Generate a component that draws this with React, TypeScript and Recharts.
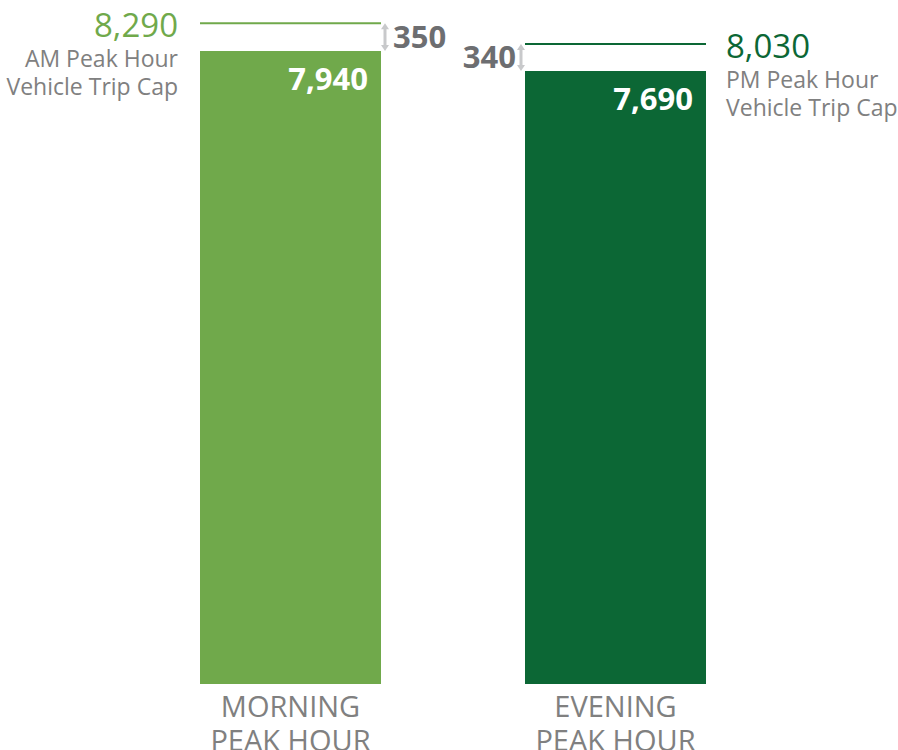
import { BarChart, Bar, XAxis, YAxis, LabelList, Cell } from "recharts";

const periodLines = [
    ["MORNING", "PEAK HOUR"],
    ["EVENING", "PEAK HOUR"],
];
const tripCounts = [7940, 7690];
const tripCaps = [8290, 8030];
const capNames = ["AM Peak Hour", "PM Peak Hour"];
const barColors = ["#70a94b", "#0c6735"];

const FONT = "'Open Sans', 'Noto Sans', sans-serif";
const GREY = "#808080";
const DARK_GREY = "#6d6e71";

const data = tripCounts.map((count, i) => ({
    period: periodLines[i].join(" "),
    count,
    cap: tripCaps[i],
}));

const fmt = (v: number) => v.toLocaleString("en-US");

// draws the cap line plus the small double arrow down to the bar top
function CapShape(props: any) {
    const { x, y, width, height, index } = props;
    const color = barColors[index];
    const barTop = y + height - (height * tripCounts[index]) / tripCaps[index];
    const ax = index === 0 ? x + width + 4 : x - 4;
    return (
        <g>
            <line x1={x} x2={x + width} y1={y} y2={y} stroke={color} strokeWidth={2} />
            <line x1={ax} x2={ax} y1={y + 4} y2={barTop - 4} stroke="#c8c9cb" strokeWidth={3} />
            <path d={`M${ax - 4},${y + 6} L${ax},${y} L${ax + 4},${y + 6} Z`} fill="#c8c9cb" />
            <path d={`M${ax - 4},${barTop - 6} L${ax},${barTop} L${ax + 4},${barTop - 6} Z`} fill="#c8c9cb" />
        </g>
    );
}

function CapLabel(props: any) {
    const { x, y, width, height, index } = props;
    const left = index === 0;
    const tx = left ? x - 22 : x + width + 20;
    const anchor = left ? "end" : "start";
    const barTop = y + height - (height * tripCounts[index]) / tripCaps[index];
    const diff = tripCaps[index] - tripCounts[index];
    return (
        <g fontFamily={FONT}>
            <text x={tx} y={y + 14} textAnchor={anchor} fontSize={33} fill={barColors[index]}>
                {fmt(tripCaps[index])}
            </text>
            <text x={tx} y={y + 44} textAnchor={anchor} fontSize={23} fill={GREY}>
                {capNames[index]}
            </text>
            <text x={tx} y={y + 72} textAnchor={anchor} fontSize={23} fill={GREY}>
                Vehicle Trip Cap
            </text>
            <text
                x={left ? x + width + 12 : x - 9}
                y={(y + barTop) / 2 + 11}
                textAnchor={left ? "start" : "end"}
                fontSize={31}
                fontWeight={700}
                fill={DARK_GREY}
            >
                {diff}
            </text>
        </g>
    );
}

function ValueLabel(props: any) {
    const { x, y, width, value } = props;
    return (
        <text x={x + width - 13} y={y + 39} textAnchor="end" fontFamily={FONT} fontSize={31} fontWeight={700} fill="#ffffff">
            {fmt(value)}
        </text>
    );
}

function PeriodTick(props: any) {
    const { x, y, index } = props;
    const lines = periodLines[index];
    return (
        <text x={x} textAnchor="middle" fontFamily={FONT} fontSize={29} fill={GREY}>
            <tspan x={x} y={y - 5}>{lines[0]}</tspan>
            <tspan x={x} y={y + 29}>{lines[1]}</tspan>
        </text>
    );
}

export default function App() {
    return (
        <div style={{ position: "absolute", left: 0, top: 0, width: 898, height: 750, background: "#ffffff" }}>
            <BarChart width={898} height={750} data={data} margin={{ top: 16, right: 120, left: 128, bottom: 0 }}>
                <XAxis
                    xAxisId="main"
                    dataKey="period"
                    axisLine={false}
                    tickLine={false}
                    height={66}
                    interval={0}
                    tick={<PeriodTick />}
                />
                <XAxis xAxisId="cap" dataKey="period" hide />
                <YAxis hide domain={[0, 8380]} />
                <Bar xAxisId="main" dataKey="count" barSize={181} isAnimationActive={false}>
                    {data.map((_, i) => (
                        <Cell key={i} fill={barColors[i]} />
                    ))}
                    <LabelList dataKey="count" content={<ValueLabel />} />
                </Bar>
                <Bar xAxisId="cap" dataKey="cap" barSize={181} shape={<CapShape />} isAnimationActive={false}>
                    <LabelList dataKey="cap" content={<CapLabel />} />
                </Bar>
            </BarChart>
        </div>
    );
}
